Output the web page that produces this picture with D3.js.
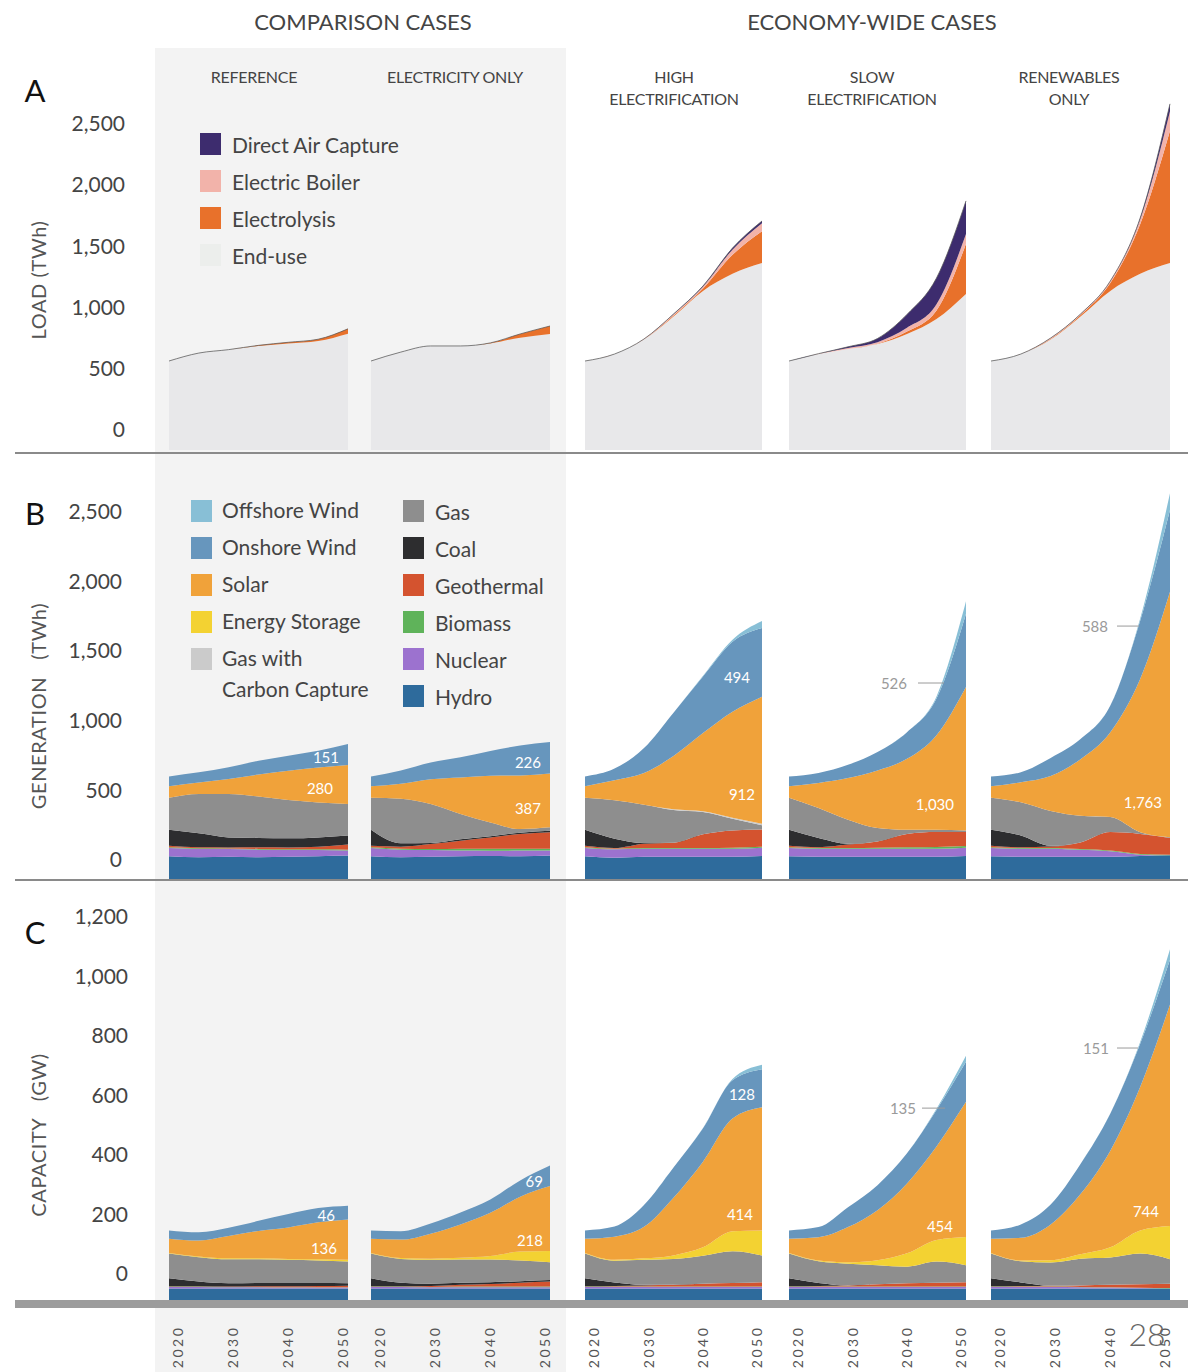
<!DOCTYPE html>
<html>
<head>
<meta charset="utf-8">
<script src="https://cdn.jsdelivr.net/npm/d3@7"></script>
<style>
  body { margin: 0; background: #fff; }
  svg text { font-family: Lato, "Open Sans", sans-serif; }
</style>
</head>
<body>
<svg id="chart" width="1197" height="1372"></svg>
<script>
// ---------------------------------------------------------------
// Data
// ---------------------------------------------------------------
const years = [2020, 2025, 2030, 2035, 2040, 2045, 2050];
const yearTicks = [2020, 2030, 2040, 2050];
const scenarios = ["Reference", "Electricity Only", "High Electrification", "Slow Electrification", "Renewables Only"];
const scenarioTitles = [["REFERENCE"], ["ELECTRICITY ONLY"], ["HIGH", "ELECTRIFICATION"], ["SLOW", "ELECTRIFICATION"], ["RENEWABLES", "ONLY"]];
const groupTitles = ["COMPARISON CASES", "ECONOMY-WIDE CASES"];

// A: load (TWh); one row per scenario, one column per year
const loadEndUse = [
  [727, 792, 820, 850, 870, 890, 950],
  [727, 800, 850, 850, 870, 918, 948],
  [727, 784, 902, 1091, 1300, 1440, 1528],
  [727, 784, 825, 866, 948, 1070, 1275],
  [727, 784, 902, 1091, 1300, 1440, 1528]
];
const loadElectrolysis = [
  [0, 0, 0, 5, 10, 15, 40],
  [0, 0, 0, 0, 5, 30, 65],
  [0, 0, 0, 8, 20, 155, 260],
  [0, 0, 0, 3, 20, 70, 410],
  [0, 0, 5, 12, 65, 405, 1080]
];
const loadBoiler = [
  [0, 0, 0, 0, 0, 0, 0],
  [0, 0, 0, 0, 0, 0, 0],
  [0, 0, 5, 10, 14, 42, 65],
  [0, 3, 8, 12, 30, 50, 80],
  [0, 0, 8, 8, 16, 40, 160]
];
const loadDAC = [
  [0, 0, 0, 0, 0, 0, 0],
  [0, 0, 0, 0, 0, 0, 0],
  [0, 0, 0, 2, 6, 13, 18],
  [0, 0, 10, 30, 110, 215, 270],
  [0, 0, 0, 0, 0, 10, 60]
];
const loadTicks = [0, 500, 1000, 1500, 2000, 2500];

// B: generation (TWh)
const genHydro = [
  [163, 156, 160, 156, 160, 163, 168],
  [163, 156, 160, 163, 165, 163, 168],
  [163, 153, 160, 160, 160, 160, 165],
  [163, 160, 160, 160, 160, 160, 165],
  [163, 160, 160, 160, 160, 165, 170]
];
const genNuclear = [
  [60, 60, 55, 55, 48, 45, 36],
  [60, 55, 48, 41, 38, 41, 36],
  [60, 60, 58, 58, 58, 58, 60],
  [60, 58, 58, 58, 58, 58, 60],
  [60, 58, 58, 50, 40, 10, 0]
];
const genBiomass = [
  [5, 5, 5, 5, 5, 5, 7],
  [5, 7, 7, 14, 14, 14, 14],
  [5, 5, 5, 5, 5, 7, 7],
  [5, 5, 5, 7, 10, 12, 12],
  [5, 5, 5, 5, 5, 5, 5]
];
const genGeothermal = [
  [10, 7, 7, 12, 14, 19, 36],
  [10, 14, 36, 57, 81, 105, 117],
  [10, 5, 31, 38, 98, 124, 124],
  [10, 5, 24, 45, 96, 108, 100],
  [10, 5, 10, 48, 132, 144, 120]
];
const genCoal = [
  [115, 100, 72, 67, 65, 67, 65],
  [115, 24, 7, 10, 10, 10, 12],
  [115, 67, 5, 0, 0, 0, 0],
  [115, 67, 7, 0, 0, 0, 0],
  [115, 84, 5, 0, 0, 0, 0]
];
const genGas = [
  [230, 282, 311, 297, 275, 251, 227],
  [230, 320, 280, 182, 98, 26, 24],
  [230, 275, 275, 235, 160, 84, 31],
  [230, 215, 172, 96, 29, 15, 12],
  [230, 239, 251, 191, 108, 12, 5]
];
const genGasCCS = [
  [0, 0, 0, 0, 0, 0, 0],
  [0, 0, 0, 0, 0, 0, 0],
  [0, 0, 0, 5, 5, 7, 10],
  [0, 0, 0, 0, 0, 0, 0],
  [0, 0, 0, 0, 0, 0, 0]
];
const genStorage = [
  [0, 0, 0, 0, 0, 0, 0],
  [0, 0, 0, 0, 0, 0, 0],
  [0, 0, 0, 0, 0, 0, 0],
  [0, 0, 0, 0, 0, 0, 0],
  [0, 0, 0, 0, 0, 0, 0]
];
const genSolar = [
  [84, 84, 108, 158, 211, 251, 280],
  [84, 108, 179, 263, 335, 385, 387],
  [84, 144, 227, 383, 562, 761, 912],
  [84, 180, 299, 414, 510, 680, 1030],
  [84, 144, 251, 407, 610, 1100, 1763]
];
const genOnshore = [
  [70, 72, 84, 100, 108, 120, 151],
  [70, 96, 120, 144, 179, 215, 226],
  [70, 84, 180, 311, 407, 503, 494],
  [70, 72, 96, 132, 191, 263, 526],
  [70, 72, 130, 144, 191, 420, 588]
];
const genOffshore = [
  [0, 0, 0, 0, 0, 0, 0],
  [0, 0, 0, 0, 0, 0, 0],
  [0, 0, 0, 0, 5, 15, 50],
  [0, 0, 0, 0, 0, 15, 90],
  [0, 0, 0, 0, 0, 15, 120]
];
const genTicks = [0, 500, 1000, 1500, 2000, 2500];

// C: capacity (GW)
const capHydro = [
  [39, 39, 39, 39, 39, 39, 39],
  [39, 39, 39, 39, 39, 39, 39],
  [39, 39, 39, 39, 39, 39, 39],
  [39, 39, 39, 39, 39, 39, 39],
  [39, 39, 39, 39, 39, 39, 39]
];
const capNuclear = [
  [5, 5, 4, 4, 3, 3, 3],
  [5, 5, 4, 4, 4, 4, 4],
  [5, 5, 5, 5, 5, 5, 5],
  [5, 5, 5, 5, 5, 5, 5],
  [5, 5, 5, 4, 3, 1, 0]
];
const capBiomass = [
  [1, 1, 1, 1, 1, 1, 1],
  [1, 1, 1, 2, 2, 2, 2],
  [1, 1, 1, 1, 1, 1, 1],
  [1, 1, 1, 1, 1, 1, 1],
  [1, 1, 1, 1, 1, 1, 1]
];
const capGeothermal = [
  [1, 1, 1, 2, 3, 4, 5],
  [1, 1, 3, 6, 9, 13, 17],
  [1, 2, 4, 6, 10, 12, 15],
  [1, 2, 4, 8, 11, 13, 15],
  [1, 2, 3, 5, 8, 12, 15]
];
const capCoal = [
  [27, 16, 11, 11, 11, 10, 8],
  [27, 12, 8, 7, 6, 5, 5],
  [27, 12, 2, 0, 0, 0, 0],
  [27, 10, 0, 0, 0, 0, 0],
  [27, 12, 0, 0, 0, 0, 0]
];
const capGas = [
  [83, 82, 81, 80, 78, 76, 73],
  [83, 80, 80, 78, 76, 70, 60],
  [83, 73, 84, 87, 94, 107, 90],
  [83, 73, 73, 64, 56, 71, 57],
  [83, 71, 78, 90, 92, 103, 82]
];
const capGasCCS = [
  [0, 0, 0, 0, 0, 0, 0],
  [0, 0, 0, 0, 0, 0, 0],
  [0, 0, 0, 0, 0, 0, 0],
  [0, 0, 0, 0, 0, 0, 0],
  [0, 0, 0, 0, 0, 0, 0]
];
const capStorage = [
  [2, 2, 3, 3, 3, 4, 6],
  [2, 3, 4, 6, 12, 30, 38],
  [2, 3, 5, 12, 28, 67, 84],
  [2, 3, 5, 17, 45, 73, 95],
  [2, 3, 8, 15, 34, 78, 112]
];
const capSolar = [
  [48, 54, 75, 92, 106, 124, 136],
  [48, 62, 84, 112, 145, 184, 218],
  [48, 78, 106, 194, 288, 379, 414],
  [48, 78, 118, 168, 235, 314, 454],
  [48, 76, 120, 202, 325, 482, 744]
];
const capOnshore = [
  [28, 28, 28, 34, 45, 48, 46],
  [28, 28, 34, 40, 45, 55, 69],
  [28, 34, 73, 101, 112, 129, 128],
  [28, 34, 67, 84, 101, 123, 135],
  [28, 45, 67, 101, 125, 145, 151]
];
const capOffshore = [
  [0, 0, 0, 0, 0, 0, 0],
  [0, 0, 0, 0, 0, 0, 0],
  [0, 0, 0, 0, 1, 4, 15],
  [0, 0, 0, 0, 0, 4, 20],
  [0, 0, 0, 0, 0, 6, 35]
];
const capTicks = [0, 200, 400, 600, 800, 1000, 1200];

// Stack order, bottom to top
const loadNames = ["End-use", "Electrolysis", "Electric Boiler", "Direct Air Capture"];
const loadArrays = [loadEndUse, loadElectrolysis, loadBoiler, loadDAC];
const genNames = ["Hydro", "Nuclear", "Biomass", "Geothermal", "Coal", "Gas", "Gas with Carbon Capture", "Energy Storage", "Solar", "Onshore Wind", "Offshore Wind"];
const genArrays = [genHydro, genNuclear, genBiomass, genGeothermal, genCoal, genGas, genGasCCS, genStorage, genSolar, genOnshore, genOffshore];
const capArrays = [capHydro, capNuclear, capBiomass, capGeothermal, capCoal, capGas, capGasCCS, capStorage, capSolar, capOnshore, capOffshore];

// ---------------------------------------------------------------
// Styles & layout
// ---------------------------------------------------------------
const loadColors = {
  "End-use": "#e8e8ea",
  "Electrolysis": "#e8712b",
  "Electric Boiler": "#f2b3aa",
  "Direct Air Capture": "#3d2c6e"
};
const techColors = {
  "Hydro": "#2e6b9c",
  "Nuclear": "#9c72cf",
  "Biomass": "#5fb35a",
  "Geothermal": "#d4532f",
  "Coal": "#2d2d2f",
  "Gas": "#8e8e8e",
  "Gas with Carbon Capture": "#cbcbcb",
  "Energy Storage": "#f3d232",
  "Solar": "#f0a23a",
  "Onshore Wind": "#6796bd",
  "Offshore Wind": "#88bfd6"
};

const cols = [
  { x0: 169, w: 179, title: 254 },
  { x0: 371, w: 179, title: 455 },
  { x0: 585, w: 177, title: 674 },
  { x0: 789, w: 177, title: 872 },
  { x0: 991, w: 179, title: 1069 }
];

const rows = [
  { names: loadNames, arrays: loadArrays, colors: loadColors, base: 450, px: 0.1224, ticks: loadTicks,
    shift: 20, tickRight: 125, letter: "A", letterY: 90, title: "LOAD (TWh)", titleY: 280, outline: true,
    rule: { y: 452, h: 2 } },
  { names: genNames, arrays: genArrays, colors: techColors, base: 879, px: 0.1392, ticks: genTicks,
    shift: 19, tickRight: 122, letter: "B", letterY: 513, title: "GENERATION   (TWh)", titleY: 706,
    rule: { y: 879, h: 2 } },
  { names: genNames, arrays: capArrays, colors: techColors, base: 1300, px: 0.2975, ticks: capTicks,
    shift: 26, tickRight: 128, letter: "C", letterY: 932, title: "CAPACITY   (GW)", titleY: 1135,
    rule: { y: 1300, h: 8 } }
];

// value callouts: row index, scenario, series, label height (in data units), x offset from 2050
const callouts = [
  { row: 1, s: 0, series: "Onshore Wind", level: 876, dx: -9 },
  { row: 1, s: 0, series: "Solar", level: 654, dx: -15 },
  { row: 1, s: 1, series: "Onshore Wind", level: 841, dx: -9 },
  { row: 1, s: 1, series: "Solar", level: 510, dx: -9 },
  { row: 1, s: 2, series: "Onshore Wind", level: 1451, dx: -12 },
  { row: 1, s: 2, series: "Solar", level: 611, dx: -7 },
  { row: 1, s: 3, series: "Onshore Wind", level: 1408, dx: -59, leader: [-48, -22] },
  { row: 1, s: 3, series: "Solar", level: 539, dx: -12 },
  { row: 1, s: 4, series: "Onshore Wind", level: 1817, dx: -62, leader: [-53, -31] },
  { row: 1, s: 4, series: "Solar", level: 553, dx: -8 },
  { row: 2, s: 0, series: "Onshore Wind", level: 286, dx: -13 },
  { row: 2, s: 0, series: "Solar", level: 175, dx: -11 },
  { row: 2, s: 1, series: "Onshore Wind", level: 400, dx: -7 },
  { row: 2, s: 1, series: "Solar", level: 202, dx: -7 },
  { row: 2, s: 2, series: "Onshore Wind", level: 692, dx: -7 },
  { row: 2, s: 2, series: "Solar", level: 289, dx: -9 },
  { row: 2, s: 3, series: "Onshore Wind", level: 645, dx: -50, leader: [-44, -21] },
  { row: 2, s: 3, series: "Solar", level: 249, dx: -13 },
  { row: 2, s: 4, series: "Onshore Wind", level: 847, dx: -61, leader: [-53, -32] },
  { row: 2, s: 4, series: "Solar", level: 299, dx: -11 }
];

// ---------------------------------------------------------------
// Drawing
// ---------------------------------------------------------------
const svg = d3.select("#chart");
const fmt = d3.format(",");
const font = "Lato, 'Open Sans', sans-serif";

// shaded backdrop behind the comparison cases
svg.append("rect").attr("x", 155).attr("y", 48).attr("width", 411).attr("height", 1324).attr("fill", "#f3f3f3");

// group headings
[363, 872].forEach((cx, i) => {
  svg.append("text").attr("x", cx).attr("y", 21).attr("text-anchor", "middle")
    .attr("dominant-baseline", "central").attr("font-size", 22).attr("fill", "#444")
    .text(groupTitles[i]);
});

// scenario headings
cols.forEach((c, s) => {
  const t = svg.append("text").attr("text-anchor", "middle").attr("font-size", 16)
    .attr("fill", "#444").attr("letter-spacing", -0.3);
  scenarioTitles[s].forEach((line, k) => {
    t.append("tspan").attr("x", c.title).attr("y", 77 + k * 22).attr("dy", "0.35em").text(line);
  });
});

function tableFor(names, arrays, s) {
  return years.map((yr, i) => {
    const r = { year: yr };
    names.forEach((n, k) => { r[n] = arrays[k][s][i]; });
    return r;
  });
}

const xScales = cols.map(c => d3.scaleLinear().domain([2020, 2050]).range([c.x0, c.x0 + c.w]));

rows.forEach((row, ri) => {
  const maxTick = d3.max(row.ticks);
  row.y = d3.scaleLinear().domain([0, maxTick]).range([row.base, row.base - maxTick * row.px]);

  // value axis
  const ax = svg.append("g")
    .attr("transform", `translate(${row.tickRight},${-row.shift})`)
    .call(d3.axisLeft(row.y).tickValues(row.ticks).tickFormat(fmt).tickSize(0).tickPadding(0));
  ax.select(".domain").remove();
  ax.attr("font-family", font).attr("font-size", 21);
  ax.selectAll("text").attr("fill", "#444");

  // panel letter and axis title
  svg.append("text").attr("x", 35).attr("y", row.letterY).attr("text-anchor", "middle")
    .attr("dominant-baseline", "central").attr("font-size", 31).attr("fill", "#111").text(row.letter);
  svg.append("text").attr("transform", `translate(38,${row.titleY}) rotate(-90)`)
    .attr("text-anchor", "middle").attr("dominant-baseline", "central")
    .attr("font-size", 20).attr("fill", "#555").attr("letter-spacing", 0.6)
    .style("white-space", "pre").text(row.title);

  // stacked areas per scenario
  cols.forEach((c, s) => {
    const x = xScales[s];
    const table = tableFor(row.names, row.arrays, s);
    const stacked = d3.stack().keys(row.names)(table);
    const area = d3.area()
      .x(d => x(d.data.year))
      .y0(d => row.y(d[0]))
      .y1(d => row.y(d[1]))
      .curve(d3.curveMonotoneX);
    const g = svg.append("g");
    stacked.forEach(layer => {
      if (d3.max(layer, d => d[1] - d[0]) <= 0) return;
      g.append("path").attr("d", area(layer)).attr("fill", row.colors[layer.key]);
    });
    if (row.outline) {
      const top = stacked[stacked.length - 1];
      g.append("path")
        .attr("d", d3.line().x(d => x(d.data.year)).y(d => row.y(d[1])).curve(d3.curveMonotoneX)(top))
        .attr("fill", "none").attr("stroke", "#555").attr("stroke-width", 1).attr("stroke-opacity", 0.75);
    }
  });

  // baseline rule
  svg.append("rect").attr("x", 15).attr("y", row.rule.y).attr("width", 1173).attr("height", row.rule.h)
    .attr("fill", ri === 2 ? "#9c9c9c" : "#8a8a8a");
});

// value callouts
callouts.forEach(cl => {
  const row = rows[cl.row];
  const x = xScales[cl.s];
  const arr = row.arrays[row.names.indexOf(cl.series)];
  const label = fmt(arr[cl.s][years.length - 1]);
  const yy = row.y(cl.level);
  const xe = x(2050);
  const outside = !!cl.leader;
  svg.append("text").attr("x", xe + cl.dx).attr("y", yy).attr("text-anchor", "end")
    .attr("dominant-baseline", "central").attr("font-size", 15)
    .attr("fill", outside ? "#9a9a9a" : "#fff").text(label);
  if (outside) {
    svg.append("line").attr("x1", xe + cl.leader[0]).attr("x2", xe + cl.leader[1])
      .attr("y1", yy).attr("y2", yy).attr("stroke", "#9a9a9a").attr("stroke-width", 1);
  }
});

// year axes along the bottom
cols.forEach((c, s) => {
  const xl = d3.scaleLinear().domain([2020, 2050]).range([c.x0 + 9, c.x0 + c.w - 5]);
  const g = svg.append("g").attr("transform", "translate(0,1347)")
    .call(d3.axisBottom(xl).tickValues(yearTicks).tickFormat(d3.format("d")).tickSize(0));
  g.select(".domain").remove();
  g.attr("font-family", font).attr("font-size", 14);
  g.selectAll("text").attr("x", 0).attr("y", 0).attr("dy", "0.35em")
    .attr("transform", "rotate(-90)").attr("text-anchor", "middle")
    .attr("letter-spacing", 2.5).attr("fill", "#555");
});

// legend — load components
const loadLegend = ["Direct Air Capture", "Electric Boiler", "Electrolysis", "End-use"];
loadLegend.forEach((name, i) => {
  const cy = 144 + i * 37;
  svg.append("rect").attr("x", 200).attr("y", cy - 11).attr("width", 21).attr("height", 22)
    .attr("fill", name === "End-use" ? "#eceeec" : loadColors[name]);
  svg.append("text").attr("x", 232).attr("y", cy).attr("dominant-baseline", "central")
    .attr("font-size", 21).attr("fill", "#444").text(name);
});

// legend — technologies
const legendLeft = [["Offshore Wind"], ["Onshore Wind"], ["Solar"], ["Energy Storage"], ["Gas with", "Carbon Capture"]];
const legendLeftKeys = ["Offshore Wind", "Onshore Wind", "Solar", "Energy Storage", "Gas with Carbon Capture"];
const legendRight = ["Gas", "Coal", "Geothermal", "Biomass", "Nuclear", "Hydro"];
legendLeft.forEach((lines, i) => {
  const cy = 511 + i * 37;
  svg.append("rect").attr("x", 191).attr("y", cy - 11).attr("width", 21).attr("height", 22)
    .attr("fill", techColors[legendLeftKeys[i]]);
  const t = svg.append("text").attr("font-size", 21).attr("fill", "#444");
  lines.forEach((ln, k) => {
    t.append("tspan").attr("x", 222).attr("y", cy + k * 31).attr("dy", "0.35em").text(ln);
  });
});
legendRight.forEach((name, i) => {
  const cy = 511 + i * 37;
  svg.append("rect").attr("x", 403).attr("y", cy - 11).attr("width", 21).attr("height", 22)
    .attr("fill", techColors[name]);
  svg.append("text").attr("x", 435).attr("y", cy).attr("dominant-baseline", "central")
    .attr("font-size", 21).attr("fill", "#444").text(name);
});

// page number
svg.append("text").attr("x", 1147).attr("y", 1333).attr("text-anchor", "middle")
  .attr("dominant-baseline", "central").attr("font-size", 32).attr("font-weight", 300)
  .attr("fill", "#666").text("28");
</script>
</body>
</html>
